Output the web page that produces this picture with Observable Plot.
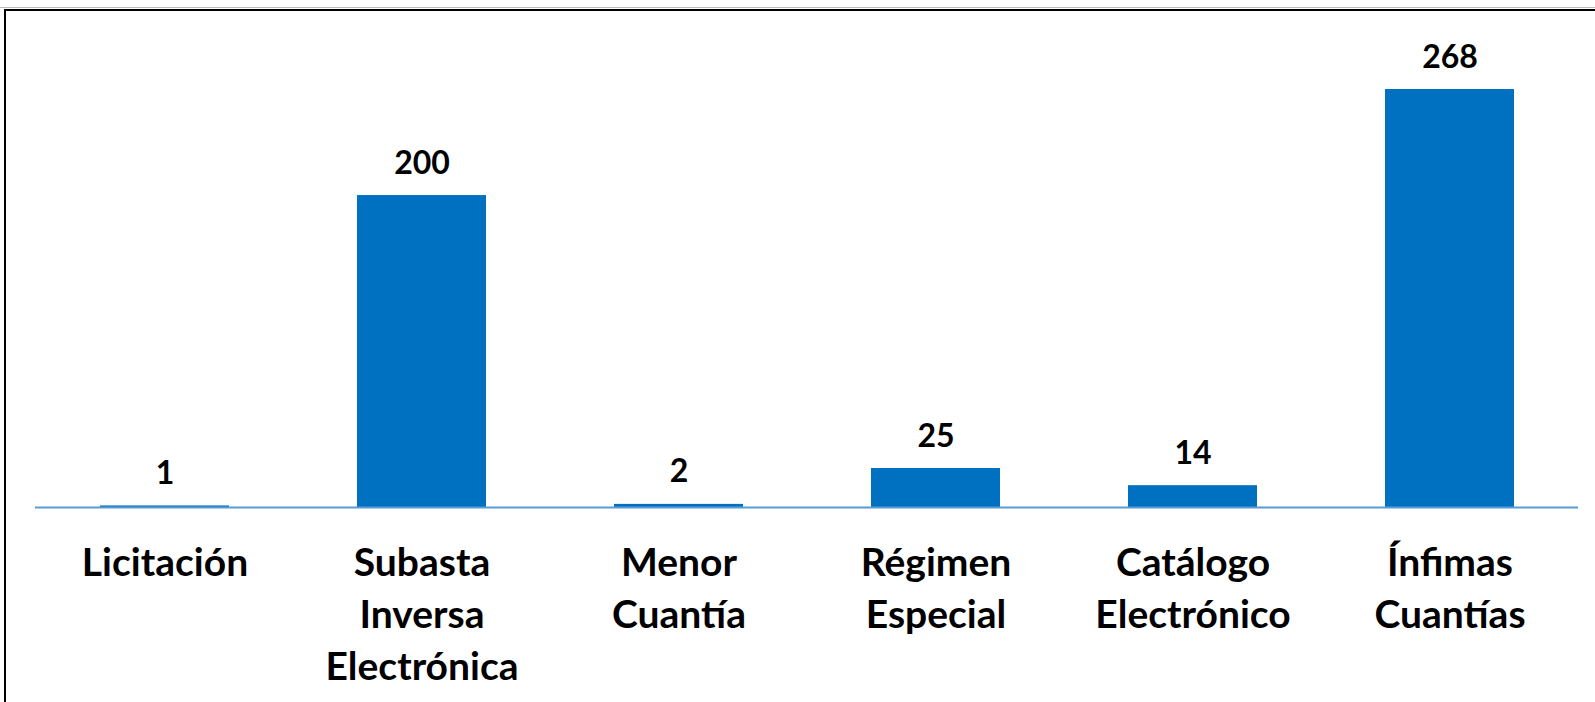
<!DOCTYPE html>
<html>
<head>
<meta charset="utf-8">
<script src="https://cdn.jsdelivr.net/npm/d3@7"></script>
<script src="https://cdn.jsdelivr.net/npm/@observablehq/plot@0.6"></script>
<style>
  html, body { margin: 0; padding: 0; background: #fff; overflow: hidden; }
  #wrap { position: relative; width: 1595px; height: 702px; }
  #frame { position: absolute; left: 4px; top: 9px; width: 1600px; height: 700px;
           border-top: 2px solid #000; border-left: 2px solid #000; box-sizing: border-box; pointer-events: none; }
  #frame2 { position: absolute; left: 0; top: 7px; width: 1600px; height: 1px; background: #bbb; }
  svg { position: absolute; left: 0; top: 0; }
</style>
</head>
<body>
<div id="wrap"><div id="frame2"></div><div id="frame"></div></div>
<script>
const categories = ["Licitación", "Subasta\nInversa\nElectrónica", "Menor\nCuantía", "Régimen\nEspecial", "Catálogo\nElectrónico", "Ínfimas\nCuantías"];
const values = [1, 200, 2, 25, 14, 268];

const data = categories.map((c, i) => ({category: c, value: values[i]}));
const font = "Lato, 'Open Sans', sans-serif";

const chart = Plot.plot({
  width: 1595,
  height: 702,
  marginLeft: 35,
  marginRight: 17,
  marginTop: 89,
  marginBottom: 195,
  style: {fontFamily: font, background: "transparent", color: "#000"},
  x: {domain: categories, paddingInner: 0.5, paddingOuter: 0.25, label: null},
  y: {domain: [0, 268], axis: null},
  marks: [
    Plot.barY(data, {x: "category", y: "value", fill: "#0070C0"}),
    Plot.ruleY([0], {stroke: "#5B9BD5", strokeWidth: 2}),
    Plot.text(data, {x: "category", y: "value", text: d => String(d.value), lineAnchor: "bottom", dy: -22,
                     fontSize: 32, fontWeight: "bold", fill: "#000"}),
    Plot.axisX({tickSize: 0, tickPadding: 31, fontSize: 39, fontWeight: "bold", lineHeight: 1.34, label: null, fill: "#000"})
  ]
});
chart.querySelectorAll("text").forEach(t => t.style.fontWeight = "bold");
document.getElementById("wrap").prepend(chart);
</script>
</body>
</html>
